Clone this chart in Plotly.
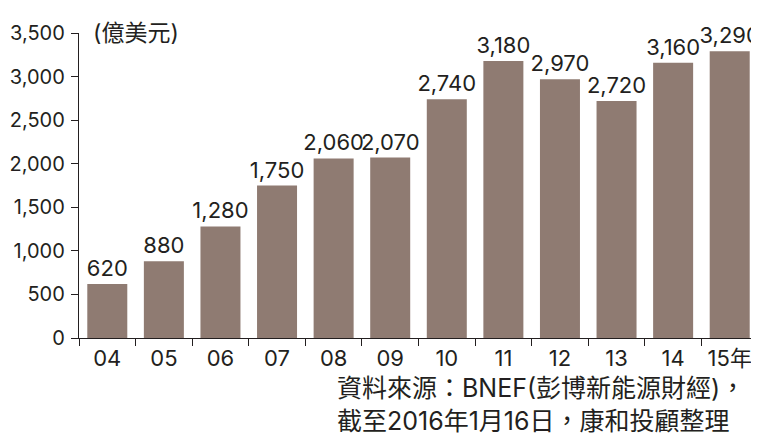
import plotly.graph_objects as go

categories = ["04", "05", "06", "07", "08", "09", "10", "11", "12", "13", "14", "15年"]
values = [620, 880, 1280, 1750, 2060, 2070, 2740, 3180, 2970, 2720, 3160, 3290]
y_ticks = [0, 500, 1000, 1500, 2000, 2500, 3000, 3500]
unit_label = "(億美元)"
source_lines = ["資料來源：BNEF(彭博新能源財經)，", "截至2016年1月16日，康和投顧整理"]

# The page body has an 8px default margin, so the figure is offset by 8px.
OFF = 8
W, H = 759 - OFF, 437 - OFF
PLOT_L, PLOT_R, PLOT_T, PLOT_B = 79, 758, 33, 338  # page pixels
ML, MR, MT = PLOT_L - OFF, W - (PLOT_R - OFF), PLOT_T - OFF
MB = H - (PLOT_B - OFF)
INK = "#231f20"
BAR = "#8f7b72"
FONT = "Inter, Liberation Sans, Noto Sans CJK TC, sans-serif"
CJK = "Inter, Noto Sans CJK TC, sans-serif"

fig = go.Figure(
    go.Bar(
        x=categories,
        y=values,
        marker=dict(color=BAR, line=dict(width=0)),
        text=[f"{v:,}" for v in values],
        textposition="outside",
        textangle=0,
        constraintext="none",
        cliponaxis=False,
        textfont=dict(family=FONT, size=22, color=INK),
    )
)

pw = W - ML - MR
ph = H - MT - MB

def px_x(p):
    return (p - OFF - ML) / pw

def px_y(p):
    return (H - MB - (p - OFF)) / ph

fig.update_layout(
    width=W,
    height=H,
    margin=dict(l=ML, r=MR, t=MT, b=MB, pad=0, autoexpand=False),
    paper_bgcolor="white",
    plot_bgcolor="white",
    bargap=0.293,
    showlegend=False,
    font=dict(family=FONT, size=22, color=INK),
    xaxis=dict(
        type="category",
        automargin=False,
        tickangle=0,
        showline=True,
        linecolor=INK,
        linewidth=1.3,
        ticks="outside",
        tickson="boundaries",
        ticklen=7,
        tickwidth=1.3,
        tickcolor=INK,
        showgrid=False,
        tickfont=dict(family=FONT, size=22, color=INK),
    ),
    yaxis=dict(
        range=[0, 3500],
        automargin=False,
        tickvals=y_ticks,
        tickformat=",d",
        showline=True,
        linecolor=INK,
        linewidth=1.3,
        ticks="outside",
        ticklen=7,
        tickwidth=1.3,
        tickcolor=INK,
        showgrid=False,
        zeroline=False,
        ticklabelstandoff=2,
        tickfont=dict(family=FONT, size=20, color=INK),
    ),
    annotations=[
        dict(
            text=unit_label,
            xref="paper", yref="paper",
            x=px_x(91), y=px_y(33),
            xanchor="left", yanchor="middle",
            showarrow=False,
            font=dict(family=CJK, size=23, color=INK),
        ),
        dict(
            text="<br>".join(source_lines),
            xref="paper", yref="paper",
            x=px_x(541), y=px_y(404),
            xanchor="center", yanchor="middle",
            align="left",
            showarrow=False,
            font=dict(family=CJK, size=25, color=INK),
        ),
    ],
)

fig.write_html("out.html")
